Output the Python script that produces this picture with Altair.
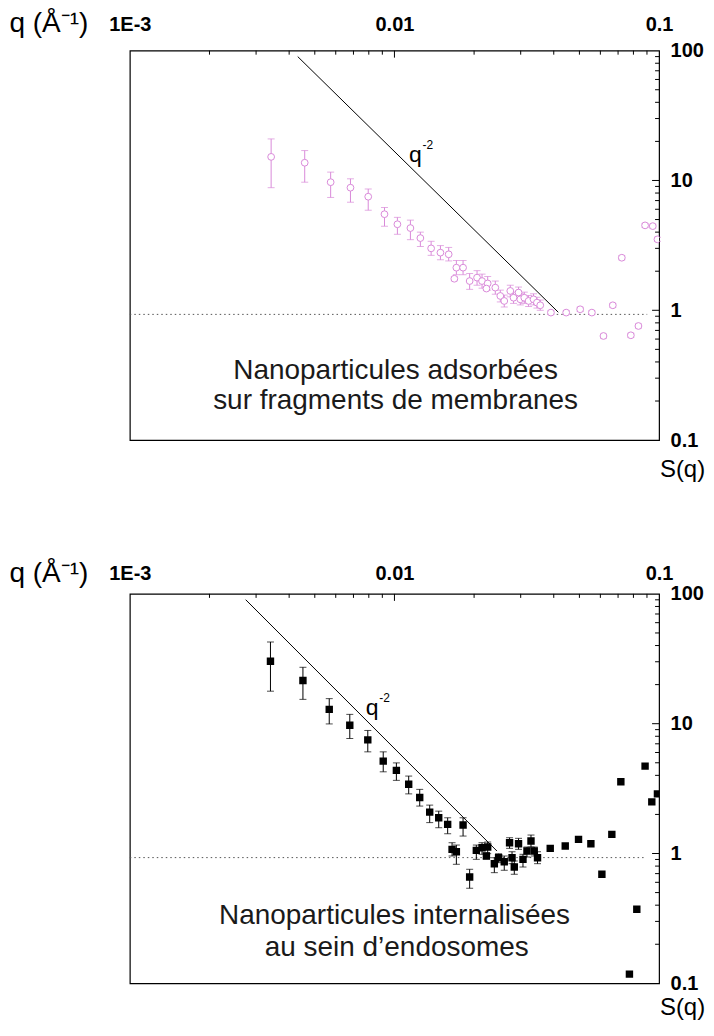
import altair as alt
import pandas as pd

W, H = 530, 390
FONT = "Liberation Sans"

# ---------------- top panel : membranes (pink open circles) ----------------
top_q = [0.00342, 0.00458, 0.00574, 0.00682, 0.00796, 0.00917, 0.01026, 0.01149, 0.01253, 0.01376,
         0.01492, 0.01603, 0.01714, 0.01817, 0.01684, 0.01924, 0.02052, 0.02143, 0.02251, 0.02226,
         0.02405, 0.02512, 0.02600, 0.02740, 0.02819, 0.02944, 0.02989, 0.03095, 0.03213, 0.03354,
         0.03455, 0.03556, 0.03902, 0.04457, 0.05033, 0.05572, 0.06165, 0.06686, 0.07230, 0.07822,
         0.08356, 0.08854, 0.09468, 0.09860]
top_s = [15.2, 13.7, 9.7, 8.8, 7.5, 5.5, 4.6, 4.3, 3.6, 3.0,
         2.78, 2.70, 2.13, 2.13, 1.75, 1.68, 1.785, 1.68, 1.61, 1.47,
         1.495, 1.29, 1.18, 1.41, 1.25, 1.37, 1.215, 1.25, 1.18, 1.215,
         1.146, 1.093, 0.96, 0.96, 1.018, 0.96, 0.634, 1.093, 2.54, 0.642,
         0.757, 4.51, 4.45, 3.52]
top_lo = [8.8, 9.7, 7.4, 6.8, 5.9, 4.45, 3.85, 3.5, 3.1, 2.65,
          2.45, 2.40, 1.88, 1.88, 1.69, 1.45, 1.56, 1.48, 1.43, 1.42,
          1.33, 1.16, 1.06, 1.27, 1.13, 1.24, 1.10, 1.13, 1.07, 1.10,
          1.04, 1.0, 0.93, 0.93, 0.98, 0.93, 0.61, 1.055, 2.45, 0.62,
          0.73, 4.35, 4.3, 3.4]
top_hi = [20.9, 17.0, 11.6, 10.3, 8.6, 6.2, 5.2, 4.95, 4.0, 3.4,
          3.15, 3.05, 2.42, 2.42, 1.81, 1.92, 2.02, 1.90, 1.82, 1.52,
          1.68, 1.43, 1.31, 1.56, 1.38, 1.51, 1.34, 1.38, 1.30, 1.34,
          1.26, 1.2, 0.99, 0.99, 1.055, 0.99, 0.655, 1.13, 2.63, 0.665,
          0.785, 4.67, 4.6, 3.65]

# ---------------- bottom panel : endosomes (black squares) ----------------
bot_q = [0.00340, 0.00451, 0.00567, 0.00678, 0.00793, 0.00907, 0.01017, 0.01132, 0.01246, 0.01359,
         0.01470, 0.01589, 0.01817, 0.01651, 0.01714, 0.01924, 0.02039, 0.02143, 0.02251, 0.02226,
         0.02385, 0.02475, 0.02600, 0.02723, 0.02782, 0.02837, 0.02944, 0.03060, 0.03168, 0.03281,
         0.03375, 0.03473, 0.03879, 0.04420, 0.04962, 0.05525, 0.06080, 0.06630, 0.07171, 0.07727,
         0.08239, 0.08854, 0.09387, 0.09860]
bot_s = [30.3, 21.5, 12.9, 9.73, 7.50, 5.15, 4.37, 3.42, 2.70, 2.085,
         1.885, 1.677, 1.656, 1.077, 1.032, 0.659, 1.058, 1.108, 1.122, 0.957,
         0.835, 0.928, 0.865, 1.211, 0.928, 0.787, 1.190, 0.902, 1.045, 1.248,
         1.045, 0.928, 1.096, 1.142, 1.286, 1.190, 0.692, 1.405, 3.57, 0.1177,
         0.372, 4.71, 2.50, 2.88]
bot_lo = [17.8, 15.4, 9.96, 7.69, 6.07, 4.26, 3.66, 2.88, 2.32, 1.73,
          1.58, 1.42, 1.363, 0.957, 0.826, 0.540, 0.902, 0.986, 0.997, 0.91,
          0.712, 0.850, 0.743, 1.096, 0.835, 0.692, 1.077, 0.787, 0.940, 1.122,
          0.957, 0.835, None, None, None, None, None, None, None, None,
          None, None, None, None]
bot_hi = [42.6, 27.2, 15.6, 11.8, 8.87, 6.07, 4.99, 3.95, 3.12, 2.36,
          2.12, 1.885, 1.885, 1.211, 1.162, 0.756, 1.162, 1.211, 1.226, 1.01,
          0.928, 0.996, 0.957, 1.323, 1.032, 0.876, 1.309, 0.986, 1.122, 1.388,
          1.122, 1.032, None, None, None, None, None, None, None, None,
          None, None, None, None]

# q^-2 guide lines
top_line_q = [0.00431, 0.0416]
top_line_s = [90.0, 0.966]
bot_line_q = [0.00274, 0.0244]
bot_line_s = [90.2, 1.045]

# dotted level S(q) ~ 1
top_level_q = [0.001, 0.0902]
bot_level_q = [0.001, 0.0886]
level_s = [0.93, 0.93]

# annotations (text baselines)
top_ann_text = ["Nanoparticules adsorbées", "sur fragments de membranes"]
top_ann_q = [0.0101, 0.0101]
top_ann_s = [0.295, 0.173]
bot_ann_text = ["Nanoparticules internalisées", "au sein d\u2019endosomes"]
bot_ann_q = [0.01, 0.0102]
bot_ann_s = [0.287, 0.163]

top_qlab = (0.0120, 15.8)
bot_qlab = (0.00824, 13.2)

# axis ticks
x_labels = [0.001, 0.01, 0.1]
x_minor = [0.002, 0.003, 0.004, 0.005, 0.006, 0.007, 0.008, 0.009,
           0.02, 0.03, 0.04, 0.05, 0.06, 0.07, 0.08, 0.09]
x_major = [0.01]
y_labels = [0.1, 1, 10, 100]
y_minor = [0.2, 0.3, 0.4, 0.5, 0.6, 0.7, 0.8, 0.9,
           2, 3, 4, 5, 6, 7, 8, 9,
           20, 30, 40, 50, 60, 70, 80, 90]
y_major = [1, 10]


def panel(q, s, lo, hi, line_q, line_s, level_q, ann_text, ann_q, ann_s, qlab,
          color, shape, filled, label_pad, title_y, sq_y):
    xs = alt.Scale(type="log", domain=[0.001, 0.1])
    ys = alt.Scale(type="log", domain=[0.1, 100])
    xaxis = alt.Axis(
        orient="top", values=x_labels, grid=False, domain=False, ticks=False, tickSize=0,
        labelExpr="datum.value < 0.005 ? '1E-3' : format(datum.value, '~g')",
        labelFont=FONT, labelFontSize=20, labelFontWeight="bold", labelColor="black",
        labelPadding=label_pad, labelFlush=False, labelAlign="center",
        title="q (Å\u207b\u00b9)", titleFont=FONT, titleFontSize=28, titleFontWeight="normal",
        titleColor="black", titleX=-121, titleY=title_y, titleAlign="left",
        titleBaseline="middle", titleAngle=0,
    )
    yaxis = alt.Axis(
        orient="right", values=y_labels, grid=False, domain=False, ticks=False, tickSize=0,
        labelExpr="format(datum.value, '~g')",
        labelFont=FONT, labelFontSize=20, labelFontWeight="bold", labelColor="black",
        labelPadding=11, labelAlign="left", labelBaseline="middle", labelFlush=False,
        title="S(q)", titleFont=FONT, titleFontSize=24, titleFontWeight="normal",
        titleColor="black", titleX=23, titleY=sq_y, titleAlign="center",
        titleBaseline="middle", titleAngle=0,
    )
    X = lambda f: alt.X(f, type="quantitative", scale=xs, axis=xaxis)
    Y = lambda f: alt.Y(f, type="quantitative", scale=ys, axis=yaxis)

    df = pd.DataFrame({"q": q, "s": s, "lo": lo, "hi": hi})
    err = df.dropna()

    bars = alt.Chart(err).mark_rule(color=color, strokeWidth=1).encode(
        x=X("q"), y=Y("lo"), y2="hi")
    cap_lo = alt.Chart(err).mark_tick(orient="horizontal", size=7, thickness=1, color=color).encode(
        x=X("q"), y=Y("lo"))
    cap_hi = alt.Chart(err).mark_tick(orient="horizontal", size=7, thickness=1, color=color).encode(
        x=X("q"), y=Y("hi"))
    if filled:
        pts = alt.Chart(df).mark_point(shape=shape, filled=True, size=55, color=color,
                                       opacity=1, clip=True).encode(x=X("q"), y=Y("s"))
    else:
        pts = alt.Chart(df).mark_point(shape=shape, filled=False, size=46, color=color,
                                       strokeWidth=1, opacity=1, fill="white", clip=True).encode(
            x=X("q"), y=Y("s"))

    line = alt.Chart(pd.DataFrame({"q": line_q, "s": line_s})).mark_line(
        color="black", strokeWidth=1).encode(x=X("q"), y=Y("s"))
    level = alt.Chart(pd.DataFrame({"q": level_q, "s": level_s})).mark_line(
        color="#555555", strokeWidth=1, strokeDash=[1.5, 3]).encode(x=X("q"), y=Y("s"))

    ann = alt.Chart(pd.DataFrame({"q": ann_q, "s": ann_s, "t": ann_text})).mark_text(
        font=FONT, fontSize=28, color="#1a1a1a", align="center", baseline="alphabetic").encode(
        x=X("q"), y=Y("s"), text="t")
    qdf = pd.DataFrame({"q": [qlab[0]], "s": [qlab[1]], "t": ["q"], "e": ["-2"]})
    qtxt = alt.Chart(qdf).mark_text(font=FONT, fontSize=23, color="black",
                                    align="center", baseline="middle").encode(
        x=X("q"), y=Y("s"), text="t")
    qexp = alt.Chart(qdf).mark_text(font=FONT, fontSize=12, color="black",
                                    align="left", baseline="middle", dx=7, dy=-10).encode(
        x=X("q"), y=Y("s"), text="e")

    xt_minor = alt.Chart(pd.DataFrame({"q": x_minor})).mark_rule(color="black").encode(
        x=X("q"), y=alt.value(0), y2=alt.value(4))
    xt_major = alt.Chart(pd.DataFrame({"q": x_major})).mark_rule(color="black").encode(
        x=X("q"), y=alt.value(0), y2=alt.value(7))
    yt_minor = alt.Chart(pd.DataFrame({"s": y_minor})).mark_rule(color="black").encode(
        y=Y("s"), x=alt.value(W - 4), x2=alt.value(W))
    yt_major = alt.Chart(pd.DataFrame({"s": y_major})).mark_rule(color="black").encode(
        y=Y("s"), x=alt.value(W - 7), x2=alt.value(W))

    return alt.layer(level, line, bars, cap_lo, cap_hi, pts, ann, qtxt, qexp,
                     xt_minor, xt_major, yt_minor, yt_major).properties(width=W, height=H)


top = panel(top_q, top_s, top_lo, top_hi, top_line_q, top_line_s, top_level_q,
            top_ann_text, top_ann_q, top_ann_s, top_qlab,
            "#d98ad9", "circle", False, 16, -27, 419)
bottom = panel(bot_q, bot_s, bot_lo, bot_hi, bot_line_q, bot_line_s, bot_level_q,
               bot_ann_text, bot_ann_q, bot_ann_s, bot_qlab,
               "black", "square", True, 10, -20, 414)

chart = alt.vconcat(top, bottom, spacing=77).properties(
    padding=0, background="white"
).configure_view(stroke="black", strokeWidth=1.2)

chart.save("out.html", embed_options={"renderer": "svg", "actions": False})
